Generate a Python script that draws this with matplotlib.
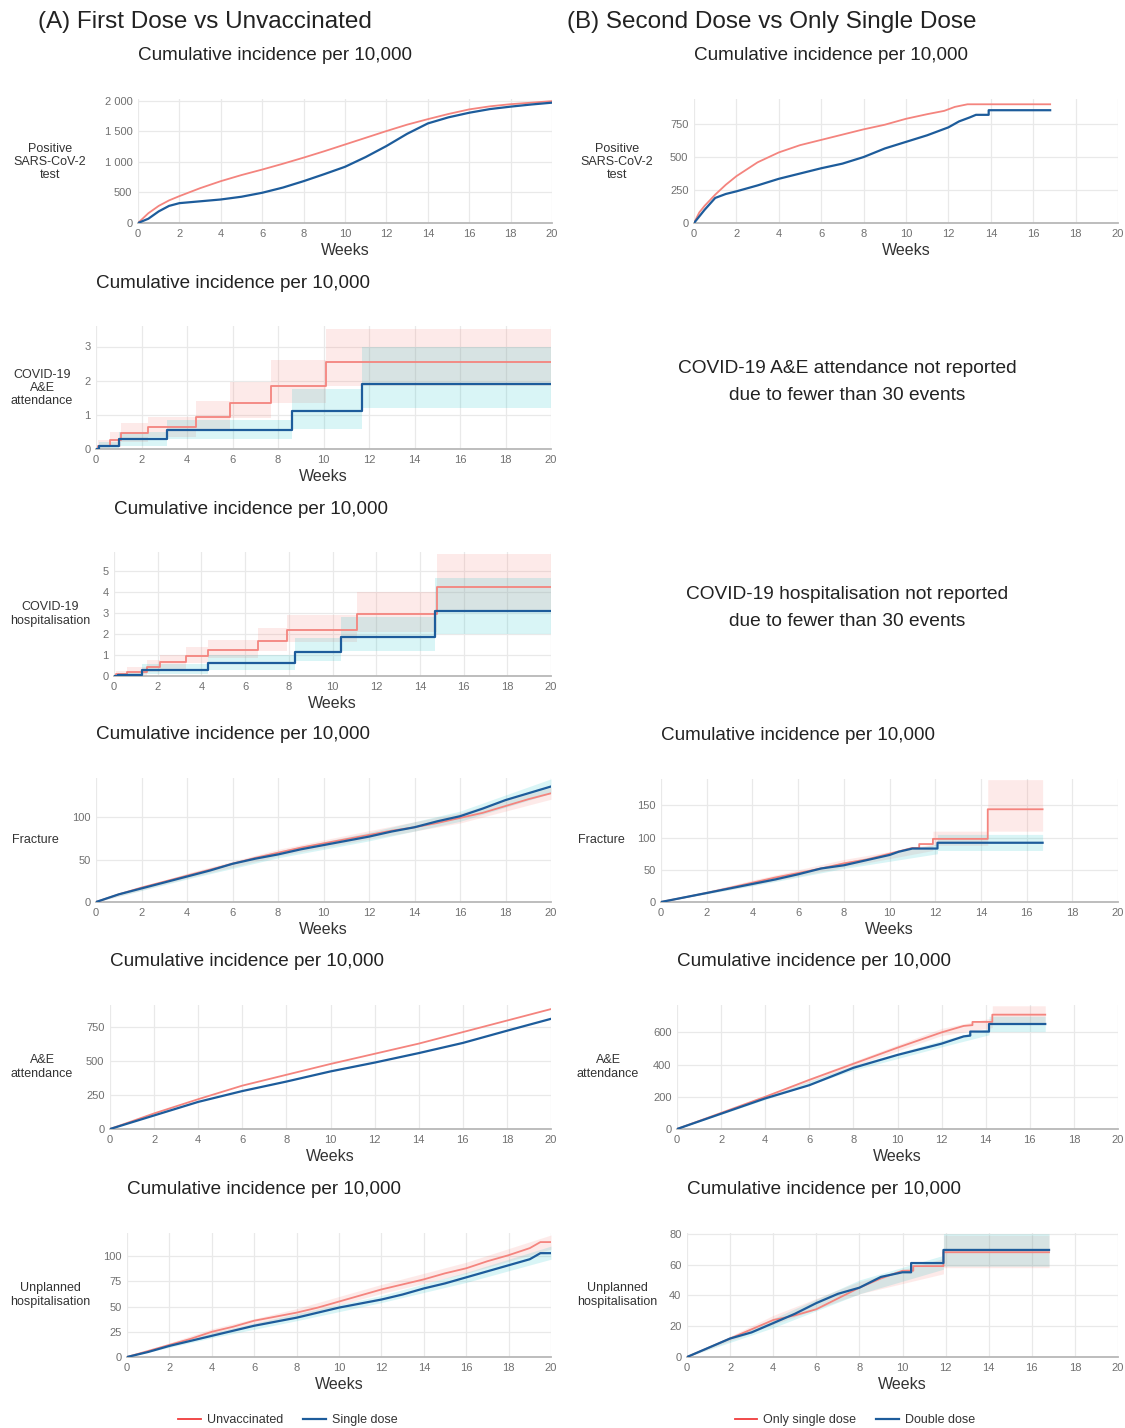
import numpy as np
import matplotlib
matplotlib.use('Agg')
import matplotlib.pyplot as plt
from matplotlib.lines import Line2D

plt.rcParams['font.family'] = ['Liberation Sans', 'DejaVu Sans']

W, H = 1125, 1428

RED = '#f4847e'
BLUE = '#1d5c9b'
RED_FILL = '#F8766D'
BLUE_FILL = '#00BFC4'

# ---------------- data ----------------
# (A) positive SARS-CoV-2 test
pos_a_wk = [0, 0.5, 1, 1.5, 2, 3, 4, 5, 6, 7, 8, 9, 10, 11, 12, 13, 14, 15, 16, 17, 18, 19, 20]
pos_a_unvax = [0, 160, 280, 370, 440, 570, 685, 785, 875, 970, 1070, 1175, 1285, 1395, 1505,
               1610, 1700, 1785, 1860, 1910, 1945, 1970, 1995]
pos_a_single = [0, 70, 190, 280, 325, 355, 385, 430, 495, 580, 685, 800, 920, 1080, 1260,
                1460, 1630, 1730, 1805, 1865, 1905, 1940, 1970]

# (B) positive SARS-CoV-2 test
pos_b_wk_single = [0, 0.25, 0.5, 1, 1.5, 2, 3, 4, 5, 6, 7, 8, 9, 10, 11, 11.8, 12.3, 12.9, 16.8]
pos_b_single = [0, 80, 130, 215, 290, 355, 460, 535, 590, 630, 670, 710, 745, 790, 825, 850, 880, 900, 900]
pos_b_wk_double = [0, 0.25, 0.5, 1, 1.5, 2, 3, 4, 5, 6, 7, 8, 9, 10, 11, 12, 12.5, 13, 13.3, 13.9, 13.9, 16.8]
pos_b_double = [0, 50, 100, 190, 220, 240, 285, 335, 375, 415, 450, 500, 565, 615, 665, 725,
                770, 800, 820, 820, 855, 855]

# (A) COVID-19 A&E attendance (step functions)
ae_cov_wk_unvax = [0, 0.1, 0.6, 1.1, 2.3, 4.4, 5.9, 7.7, 10.1, 20]
ae_cov_unvax = [0, 0.1, 0.27, 0.48, 0.65, 0.95, 1.35, 1.85, 2.55, 2.55]
ae_cov_unvax_lo = [0, 0, 0.05, 0.2, 0.35, 0.6, 0.9, 1.35, 1.85, 1.85]
ae_cov_unvax_hi = [0, 0.25, 0.5, 0.75, 0.95, 1.4, 1.95, 2.6, 3.5, 3.5]
ae_cov_wk_single = [0, 0.15, 1.0, 3.1, 8.6, 11.7, 20]
ae_cov_single = [0, 0.1, 0.28, 0.55, 1.1, 1.9, 1.9]
ae_cov_single_lo = [0, 0, 0.1, 0.3, 0.6, 1.2, 1.2]
ae_cov_single_hi = [0, 0.2, 0.5, 0.85, 1.75, 3.0, 3.0]

# (A) COVID-19 hospitalisation (step functions)
hosp_cov_wk_unvax = [0, 0.1, 0.6, 1.5, 2.1, 3.3, 4.3, 6.6, 7.9, 11.1, 14.8, 20]
hosp_cov_unvax = [0, 0.1, 0.2, 0.45, 0.65, 0.95, 1.25, 1.65, 2.2, 2.95, 4.25, 4.25]
hosp_cov_unvax_lo = [0, 0, 0.05, 0.2, 0.35, 0.6, 0.85, 1.2, 1.6, 2.1, 3.1, 3.1]
hosp_cov_unvax_hi = [0, 0.25, 0.45, 0.75, 1.0, 1.4, 1.7, 2.3, 2.9, 4.0, 5.8, 5.8]
hosp_cov_wk_single = [0, 0.2, 1.3, 4.3, 8.3, 10.4, 14.7, 20]
hosp_cov_single = [0, 0.05, 0.28, 0.6, 1.15, 1.85, 3.1, 3.1]
hosp_cov_single_lo = [0, 0, 0.1, 0.3, 0.7, 1.2, 2.0, 2.0]
hosp_cov_single_hi = [0, 0.15, 0.55, 1.0, 1.8, 2.8, 4.65, 4.65]

# (A) fracture
frac_a_wk = [0, 1, 2, 3, 4, 5, 6, 7, 8, 9, 10, 11, 12, 13, 14, 15, 16, 17, 18, 19, 20]
frac_a_unvax = [0, 9, 17, 24, 31, 38, 45, 52, 58, 64, 69, 74, 79, 84, 88, 93, 99, 105, 113, 121, 128]
frac_a_single = [0, 9, 16, 23, 30, 37, 45, 51, 56, 62, 67, 72, 77, 83, 88, 95, 101, 110, 120, 128, 136]
frac_a_ci_wk = [0, 4, 8, 12, 16, 20]
frac_a_unvax_lo = [0, 28, 54, 74, 93, 121]
frac_a_unvax_hi = [0, 34, 62, 84, 105, 135]
frac_a_single_lo = [0, 27, 52, 72, 95, 128]
frac_a_single_hi = [0, 33, 60, 82, 107, 145]

# (B) fracture
frac_b_wk_single = [0, 1, 2, 3, 4, 5, 6, 7, 8, 9, 10, 11, 11.3, 11.3, 11.9, 11.9, 14.3, 14.3, 16.7]
frac_b_single = [0, 7, 14, 22, 30, 38, 45, 52, 60, 66, 75, 84, 84, 90, 90, 98, 98, 144, 144]
frac_b_wk_double = [0, 1, 2, 3, 4, 5, 6, 7, 8, 9, 10, 10.4, 11, 12.1, 12.1, 16.7]
frac_b_double = [0, 7, 14, 21, 28, 35, 43, 52, 57, 65, 73, 78, 83, 83, 92, 92]
frac_b_ci_wk_single = [0, 4, 8, 11.9, 11.9, 14.3, 14.3, 16.7]
frac_b_single_lo = [0, 26, 54, 80, 88, 88, 110, 110]
frac_b_single_hi = [0, 34, 66, 90, 110, 110, 190, 190]
frac_b_ci_wk_double = [0, 4, 8, 12.1, 12.1, 16.7]
frac_b_double_lo = [0, 25, 52, 75, 80, 80]
frac_b_double_hi = [0, 31, 62, 90, 105, 105]

# (A) A&E attendance
ae_a_wk = [0, 2, 4, 6, 8, 10, 12, 14, 16, 18, 20]
ae_a_unvax = [0, 115, 220, 320, 400, 480, 555, 630, 715, 800, 885]
ae_a_single = [0, 100, 200, 280, 350, 425, 490, 560, 635, 725, 813]

# (B) A&E attendance
ae_b_wk_single = [0, 2, 4, 6, 8, 10, 12, 13, 13.4, 13.4, 14.3, 14.3, 16.7]
ae_b_single = [0, 100, 200, 305, 405, 505, 600, 640, 645, 665, 665, 710, 710]
ae_b_wk_double = [0, 2, 4, 6, 8, 10, 12, 13, 13.3, 13.3, 14.15, 14.15, 16.7]
ae_b_double = [0, 95, 190, 272, 380, 460, 530, 575, 580, 605, 605, 652, 652]
ae_b_ci_wk_single = [0, 8, 12, 14.3, 14.3, 16.7]
ae_b_single_lo = [0, 390, 580, 630, 655, 655]
ae_b_single_hi = [0, 420, 625, 690, 765, 765]
ae_b_ci_wk_double = [0, 8, 12, 14.15, 14.15, 16.7]
ae_b_double_lo = [0, 365, 510, 585, 605, 605]
ae_b_double_hi = [0, 395, 550, 625, 700, 700]

# (A) unplanned hospitalisation
unpl_a_wk = [0, 1, 2, 3, 4, 5, 6, 7, 8, 9, 10, 11, 12, 13, 14, 15, 16, 17, 18, 19, 19.5, 20]
unpl_a_unvax = [0, 6, 12, 18, 25, 30, 36, 40, 44, 49, 55, 61, 67, 72, 77, 83, 88, 95, 101, 108, 114, 114]
unpl_a_single = [0, 5, 11, 16, 21, 26, 31, 35, 39, 44, 49, 53, 57, 62, 68, 73, 79, 85, 91, 97, 103, 103]
unpl_a_ci_wk = [0, 4, 8, 12, 16, 20]
unpl_a_unvax_lo = [0, 22, 40, 63, 83, 107]
unpl_a_unvax_hi = [0, 28, 48, 72, 94, 121]
unpl_a_single_lo = [0, 19, 36, 54, 74, 97]
unpl_a_single_hi = [0, 24, 43, 61, 84, 110]

# (B) unplanned hospitalisation
unpl_b_wk_single = [0, 1, 2, 3, 4, 5, 6, 7, 8, 9, 10, 10.5, 10.5, 11.9, 11.9, 16.8]
unpl_b_single = [0, 6, 12, 18, 24, 27, 31, 38, 45, 51, 56, 56, 59, 59, 68, 68]
unpl_b_wk_double = [0, 1, 2, 3, 4, 5, 6, 7, 8, 9, 10, 10.4, 10.4, 11.9, 11.9, 16.8]
unpl_b_double = [0, 6, 12, 16, 22, 28, 35, 41, 45, 52, 55, 55, 61, 61, 69.5, 69.5]
unpl_b_ci_wk = [0, 4, 8, 11.9, 11.9, 16.8]
unpl_b_single_lo = [0, 21, 41, 54, 58, 58]
unpl_b_single_hi = [0, 27, 49, 64, 79, 79]
unpl_b_double_lo = [0, 19, 41, 57, 59, 59]
unpl_b_double_hi = [0, 25, 50, 66, 80, 80]


def make_panel(fig, x0, x20, y0, ytop, ylim, yticks, yticklabels=None, row_label=None, label_xy=None):
    """x0/x20: pixel x of week 0 / week 20, y0/ytop: pixel y of the bottom / top of the panel"""
    ax = fig.add_axes([x0 / W, 1 - y0 / H, (x20 - x0) / W, (y0 - ytop) / H])
    ax.set_xlim(0, 20)
    ax.set_ylim(*ylim)
    ax.set_xticks(range(0, 21, 2))
    ax.set_yticks(yticks)
    if yticklabels is not None:
        ax.set_yticklabels(yticklabels)
    for s in ['top', 'right', 'left']:
        ax.spines[s].set_visible(False)
    ax.spines['bottom'].set_color('#b8b8b8')
    ax.spines['bottom'].set_linewidth(1.3)
    ax.tick_params(length=0, labelsize=8, colors='#707070', pad=4)
    ax.grid(True, color='#e9e9e9', lw=0.9)
    ax.set_axisbelow(True)
    ax.set_xlabel('Weeks', fontsize=11.5, color='#333333', labelpad=3)

    # title sits left-aligned above each panel
    fig.text(x0 / W, 1 - (ytop - 43) / H, 'Cumulative incidence per 10,000',
             ha='left', va='center', fontsize=13.6, color='#222222')
    if row_label:
        fig.text(label_xy[0] / W, 1 - label_xy[1] / H, row_label, ha='center', va='center',
                 fontsize=9, color='#333333', linespacing=1.15)
    return ax


def draw_pair(ax, wk1, v1, wk2, v2, step=False):
    if step:
        ax.step(wk1, v1, where='post', color=RED, lw=1.3, zorder=3)
        ax.step(wk2, v2, where='post', color=BLUE, lw=1.6, zorder=4)
    else:
        ax.plot(wk1, v1, color=RED, lw=1.3, zorder=3)
        ax.plot(wk2, v2, color=BLUE, lw=1.6, zorder=4)


def ribbon(ax, wk, lo, hi, color, step=False):
    if step:
        ax.fill_between(wk, lo, hi, step='post', color=color, alpha=0.15, lw=0, zorder=2)
    else:
        ax.fill_between(wk, lo, hi, color=color, alpha=0.15, lw=0, zorder=2)


def main():
    fig = plt.figure(figsize=(W / 100, H / 100), dpi=100)

    fig.text(38 / W, 1 - 22 / H, '(A) First Dose vs Unvaccinated', ha='left', va='center',
             fontsize=17.5, color='#222222')
    fig.text(567 / W, 1 - 22 / H, '(B) Second Dose vs Only Single Dose', ha='left', va='center',
             fontsize=17.5, color='#222222')

    # ---- row 1: positive test
    ax = make_panel(fig, 138, 552, 223, 99, (0, 2030), [0, 500, 1000, 1500, 2000],
                    ['0', '500', '1 000', '1 500', '2 000'],
                    'Positive\nSARS-CoV-2\ntest', (50, 162))
    draw_pair(ax, pos_a_wk, pos_a_unvax, pos_a_wk, pos_a_single)

    ax = make_panel(fig, 694, 1118, 223, 99, (0, 940), [0, 250, 500, 750], None,
                    'Positive\nSARS-CoV-2\ntest', (617, 162))
    draw_pair(ax, pos_b_wk_single, pos_b_single, pos_b_wk_double, pos_b_double)

    # ---- row 2: COVID-19 A&E
    ax = make_panel(fig, 96, 551, 449, 326, (0, 3.6), [0, 1, 2, 3], None,
                    'COVID-19\nA&E\nattendance', (42, 388))
    ribbon(ax, ae_cov_wk_unvax, ae_cov_unvax_lo, ae_cov_unvax_hi, RED_FILL, step=True)
    ribbon(ax, ae_cov_wk_single, ae_cov_single_lo, ae_cov_single_hi, BLUE_FILL, step=True)
    draw_pair(ax, ae_cov_wk_unvax, ae_cov_unvax, ae_cov_wk_single, ae_cov_single, step=True)

    fig.text(847 / W, 1 - 382 / H, 'COVID-19 A&E attendance not reported\ndue to fewer than 30 events',
             ha='center', va='center', fontsize=13.8, color='#222222', linespacing=1.75)

    # ---- row 3: COVID-19 hospitalisation
    ax = make_panel(fig, 114, 551, 676, 552, (0, 5.9), [0, 1, 2, 3, 4, 5], None,
                    'COVID-19\nhospitalisation', (50, 614))
    ribbon(ax, hosp_cov_wk_unvax, hosp_cov_unvax_lo, hosp_cov_unvax_hi, RED_FILL, step=True)
    ribbon(ax, hosp_cov_wk_single, hosp_cov_single_lo, hosp_cov_single_hi, BLUE_FILL, step=True)
    draw_pair(ax, hosp_cov_wk_unvax, hosp_cov_unvax, hosp_cov_wk_single, hosp_cov_single, step=True)

    fig.text(847 / W, 1 - 608 / H, 'COVID-19 hospitalisation not reported\ndue to fewer than 30 events',
             ha='center', va='center', fontsize=13.8, color='#222222', linespacing=1.75)

    # ---- row 4: fracture
    ax = make_panel(fig, 96, 551, 902, 778, (0, 146), [0, 50, 100], None, 'Fracture', (35, 840))
    ribbon(ax, frac_a_ci_wk, frac_a_unvax_lo, frac_a_unvax_hi, RED_FILL)
    ribbon(ax, frac_a_ci_wk, frac_a_single_lo, frac_a_single_hi, BLUE_FILL)
    draw_pair(ax, frac_a_wk, frac_a_unvax, frac_a_wk, frac_a_single)

    ax = make_panel(fig, 661, 1118, 902, 779, (0, 191), [0, 50, 100, 150], None, 'Fracture', (601, 840))
    ribbon(ax, frac_b_ci_wk_single, frac_b_single_lo, frac_b_single_hi, RED_FILL)
    ribbon(ax, frac_b_ci_wk_double, frac_b_double_lo, frac_b_double_hi, BLUE_FILL)
    draw_pair(ax, frac_b_wk_single, frac_b_single, frac_b_wk_double, frac_b_double)

    # ---- row 5: A&E attendance
    ax = make_panel(fig, 110, 551, 1129, 1005, (0, 915), [0, 250, 500, 750], None,
                    'A&E\nattendance', (42, 1067))
    draw_pair(ax, ae_a_wk, ae_a_unvax, ae_a_wk, ae_a_single)

    ax = make_panel(fig, 677, 1118, 1129, 1005, (0, 770), [0, 200, 400, 600], None,
                    'A&E\nattendance', (608, 1067))
    ribbon(ax, ae_b_ci_wk_single, ae_b_single_lo, ae_b_single_hi, RED_FILL)
    ribbon(ax, ae_b_ci_wk_double, ae_b_double_lo, ae_b_double_hi, BLUE_FILL)
    draw_pair(ax, ae_b_wk_single, ae_b_single, ae_b_wk_double, ae_b_double)

    # ---- row 6: unplanned hospitalisation
    ax = make_panel(fig, 127, 551, 1357, 1233, (0, 123), [0, 25, 50, 75, 100], None,
                    'Unplanned\nhospitalisation', (50, 1295))
    ribbon(ax, unpl_a_ci_wk, unpl_a_unvax_lo, unpl_a_unvax_hi, RED_FILL)
    ribbon(ax, unpl_a_ci_wk, unpl_a_single_lo, unpl_a_single_hi, BLUE_FILL)
    draw_pair(ax, unpl_a_wk, unpl_a_unvax, unpl_a_wk, unpl_a_single)

    ax = make_panel(fig, 687, 1118, 1357, 1233, (0, 80.5), [0, 20, 40, 60, 80], None,
                    'Unplanned\nhospitalisation', (617, 1295))
    ribbon(ax, unpl_b_ci_wk, unpl_b_single_lo, unpl_b_single_hi, RED_FILL)
    ribbon(ax, unpl_b_ci_wk, unpl_b_double_lo, unpl_b_double_hi, BLUE_FILL)
    draw_pair(ax, unpl_b_wk_single, unpl_b_single, unpl_b_wk_double, unpl_b_double)

    # legends under each column
    h_red = Line2D([], [], color='#f03c3c', lw=1.3)
    h_blue = Line2D([], [], color=BLUE, lw=1.6)
    fig.legend([h_red, h_blue], ['Unvaccinated', 'Single dose'], loc='center',
               bbox_to_anchor=(288 / W, 1 - 1420 / H), ncol=2, frameon=False, fontsize=9,
               handlelength=1.8, handletextpad=0.5, columnspacing=1.6, labelcolor='#333333')
    fig.legend([h_red, h_blue], ['Only single dose', 'Double dose'], loc='center',
               bbox_to_anchor=(855 / W, 1 - 1420 / H), ncol=2, frameon=False, fontsize=9,
               handlelength=1.8, handletextpad=0.5, columnspacing=1.6, labelcolor='#333333')

    fig.savefig('out.png', dpi=100)


if __name__ == '__main__':
    main()
